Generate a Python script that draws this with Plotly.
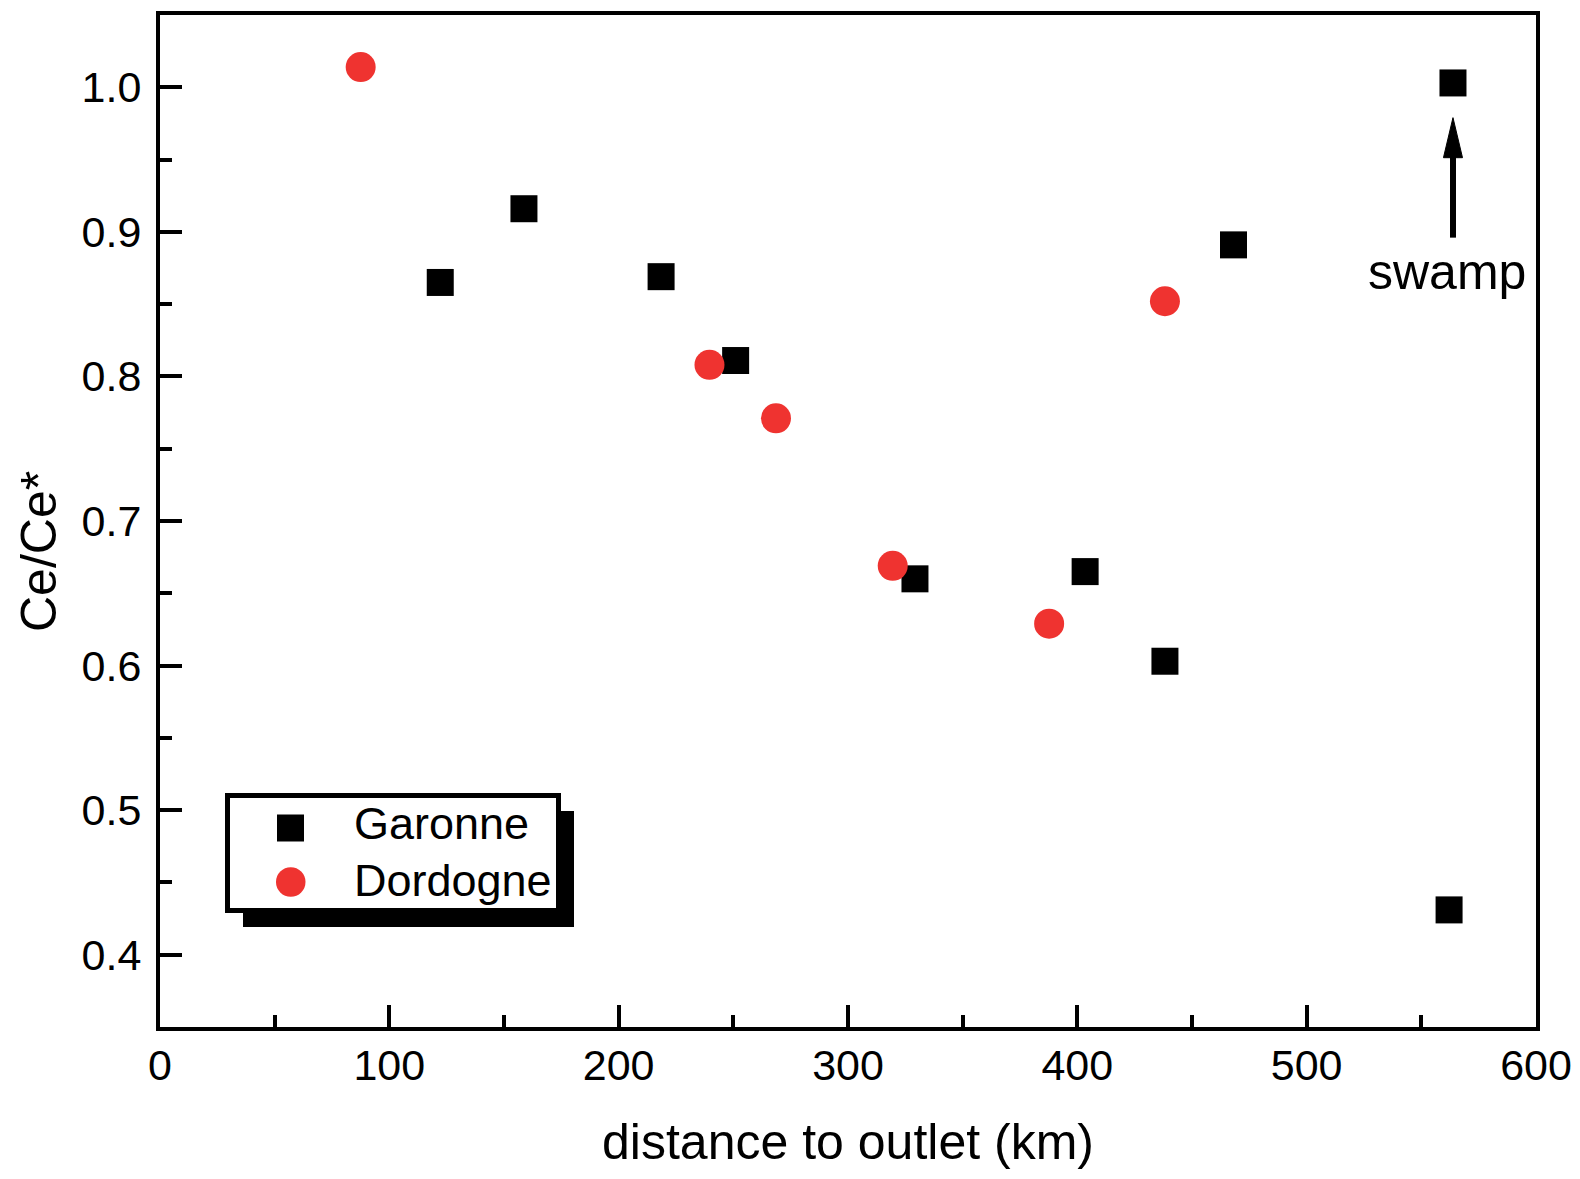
import plotly.graph_objects as go

# ---- data ----
garonne_x = [122.2, 158.7, 218.5, 251.0, 329.2, 403.4, 438.2, 468.1, 563.8, 562.1]
garonne_y = [0.865, 0.916, 0.869, 0.811, 0.660, 0.665, 0.603, 0.891, 1.003, 0.431]

dordogne_x = [87.5, 239.6, 268.6, 319.5, 387.7, 438.2]
dordogne_y = [1.014, 0.808, 0.771, 0.669, 0.629, 0.852]

series_names = ["Garonne", "Dordogne"]
x_ticks = [0, 100, 200, 300, 400, 500, 600]
y_ticks = [0.4, 0.5, 0.6, 0.7, 0.8, 0.9, 1.0]

swamp_label = "swamp"
swamp_x = 563.8
swamp_text_x = 561.3
swamp_arrow_tip = 0.979
swamp_arrow_tail = 0.896
swamp_text_y = 0.872

# page is offset by the browser's default 8px body margin; keep the figure
# small enough that the page never overflows the 1580x1179 window
PAGE_OFF = 8
W, H = 1580 - 2 * PAGE_OFF, 1179 - 2 * PAGE_OFF
PLOT_L, PLOT_R, PLOT_T, PLOT_B = 160, 1536, 15, 1027  # page pixels
L = PLOT_L - PAGE_OFF
T = PLOT_T - PAGE_OFF
R = W - (PLOT_R - PAGE_OFF)
B = H - (PLOT_B - PAGE_OFF)
FONT = "Liberation Sans, Arial, Helvetica, sans-serif"
RED = "#ef3330"


def px(xp):
    return (xp - PLOT_L) / (PLOT_R - PLOT_L)


def py(yp):
    return (PLOT_B - yp) / (PLOT_B - PLOT_T)


fig = go.Figure()
fig.add_trace(go.Scatter(
    x=garonne_x, y=garonne_y, mode="markers", name=series_names[0],
    marker=dict(symbol="square", size=27, color="black"), showlegend=False))
fig.add_trace(go.Scatter(
    x=dordogne_x, y=dordogne_y, mode="markers", name=series_names[1],
    marker=dict(symbol="circle", size=30, color=RED), showlegend=False))

axis_common = dict(
    showline=True, linewidth=4, linecolor="black", mirror=True,
    ticks="inside", ticklen=22, tickwidth=4, tickcolor="black",
    showgrid=False, zeroline=False, automargin=False,
    tickfont=dict(family=FONT, size=43, color="black"),
)

fig.update_xaxes(
    range=[0, 600], tickvals=x_ticks, ticktext=[str(v) for v in x_ticks],
    minor=dict(ticks="inside", ticklen=12, tickwidth=4, tickcolor="black", dtick=50, tick0=0),
    title=dict(text="distance to outlet (km)", font=dict(family=FONT, size=50, color="black"), standoff=37),
    ticklabelstandoff=-3,
    **axis_common)
fig.update_yaxes(
    range=[0.35, 1.05], tickvals=y_ticks, ticktext=[f"{v:.1f}" for v in y_ticks],
    minor=dict(ticks="inside", ticklen=12, tickwidth=4, tickcolor="black", dtick=0.05, tick0=0.35),
    ticklabelstandoff=6,
    **axis_common)

# swamp arrow (shaft + narrow head) in data coordinates
head_half_w = 4.15
head_len = 0.0277
fig.add_shape(type="line", xref="x", yref="y",
              x0=swamp_x, x1=swamp_x, y0=swamp_arrow_tail, y1=swamp_arrow_tip - head_len * 0.8,
              line=dict(color="black", width=6))
fig.add_shape(type="path", xref="x", yref="y",
              path=(f"M {swamp_x - head_half_w},{swamp_arrow_tip - head_len} "
                    f"L {swamp_x},{swamp_arrow_tip} "
                    f"L {swamp_x + head_half_w},{swamp_arrow_tip - head_len} Z"),
              fillcolor="black", line=dict(color="black", width=1))
fig.add_annotation(x=swamp_text_x, y=swamp_text_y, xref="x", yref="y", text=swamp_label,
                   showarrow=False, font=dict(family=FONT, size=50, color="black"),
                   xanchor="center", yanchor="middle")

# y-axis title (kept fully inside the figure)
fig.add_annotation(x=px(39), y=py(552), xref="paper", yref="paper", text="Ce/Ce*",
                   textangle=-90, showarrow=False,
                   font=dict(family=FONT, size=50, color="black"),
                   xanchor="center", yanchor="middle")

# hand-drawn legend with drop shadow
fig.add_shape(type="rect", xref="paper", yref="paper",
              x0=px(243), x1=px(574), y0=py(927), y1=py(811),
              fillcolor="black", line=dict(width=0))
fig.add_shape(type="rect", xref="paper", yref="paper",
              x0=px(227.5), x1=px(558.5), y0=py(910.5), y1=py(795.5),
              fillcolor="white", line=dict(color="black", width=5))
fig.add_shape(type="rect", xref="paper", yref="paper",
              x0=px(277), x1=px(304), y0=py(841.5), y1=py(814.5),
              fillcolor="black", line=dict(width=0))
fig.add_shape(type="circle", xref="paper", yref="paper",
              x0=px(276), x1=px(305.5), y0=py(896.7), y1=py(867.3),
              fillcolor=RED, line=dict(width=0))
fig.add_annotation(x=px(352), y=py(824), xref="paper", yref="paper", text=series_names[0],
                   showarrow=False, xanchor="left", yanchor="middle",
                   font=dict(family=FONT, size=45, color="black"))
fig.add_annotation(x=px(352), y=py(880), xref="paper", yref="paper", text=series_names[1],
                   showarrow=False, xanchor="left", yanchor="middle",
                   font=dict(family=FONT, size=45, color="black"))

fig.update_layout(
    width=W, height=H,
    margin=dict(l=L, r=R, t=T, b=B, autoexpand=False),
    paper_bgcolor="white", plot_bgcolor="white",
    showlegend=False,
    font=dict(family=FONT, color="black"),
)

fig.write_html("out.html")
